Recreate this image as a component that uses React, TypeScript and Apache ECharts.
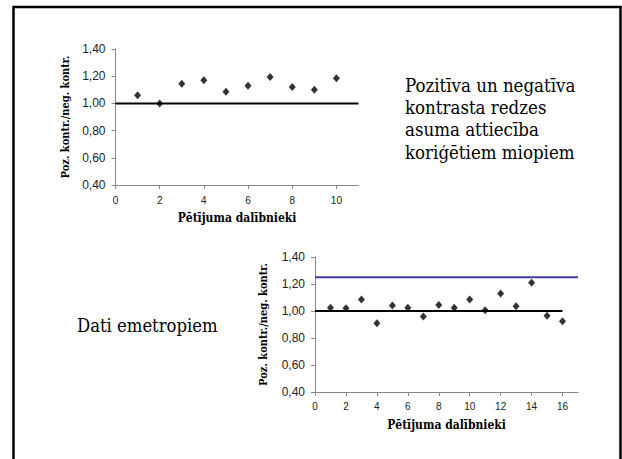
import React, { useEffect, useRef } from 'react';
import * as echarts from 'echarts';

// Top chart: corrected myopes
const topParticipants = [1, 2, 3, 4, 5, 6, 7, 8, 9, 10];
const topRatios = [1.06, 1.0, 1.145, 1.17, 1.085, 1.13, 1.195, 1.12, 1.1, 1.185];
const topRefLine = [[0, 1.0], [11, 1.0]];

// Bottom chart: emmetropes
const bottomParticipants = [1, 2, 3, 4, 5, 6, 7, 8, 9, 10, 11, 12, 13, 14, 15, 16];
const bottomRatios = [1.025, 1.02, 1.085, 0.91, 1.04, 1.025, 0.96, 1.045, 1.025, 1.085, 1.005, 1.13, 1.035, 1.21, 0.965, 0.925];
const bottomRefLine = [[0, 1.0], [16, 1.0]];
const bottomUpperLine = [[0, 1.25], [17, 1.25]];

const topXTicks = [0, 2, 4, 6, 8, 10];
const bottomXTicks = [0, 2, 4, 6, 8, 10, 12, 14, 16];

const yAxisName = 'Poz. kontr./neg. kontr.';
const xAxisName = 'Pētījuma dalībnieki';
const sideText = 'Pozitīva un negatīva\nkontrasta redzes\nasuma attiecība\nkoriģētiem miopiem';
const bottomText = 'Dati emetropiem';

const axisGray = '#868686';
const sans = 'Liberation Sans';
const serif = 'DejaVu Serif Condensed';

function makeXAxis(gridIndex: number, max: number, ticks: number[], margin: number) {
  return {
    type: 'value',
    gridIndex,
    min: 0,
    max,
    interval: 2,
    name: xAxisName,
    nameLocation: 'middle',
    nameGap: 27,
    nameTextStyle: { fontFamily: serif, fontWeight: 'bold', fontSize: 12, color: '#000' },
    axisLine: { show: true, onZero: false, lineStyle: { color: axisGray, width: 1 } },
    axisTick: { show: true, length: 4, lineStyle: { color: axisGray }, customValues: ticks },
    axisLabel: { fontFamily: sans, fontSize: 10, color: '#222', margin, customValues: ticks },
    splitLine: { show: false },
  };
}

function makeYAxis(gridIndex: number, nameGap: number) {
  return {
    type: 'value',
    gridIndex,
    min: 0.4,
    max: 1.4,
    interval: 0.2,
    name: yAxisName,
    nameLocation: 'middle',
    nameGap,
    nameTextStyle: { fontFamily: serif, fontWeight: 'bold', fontSize: 11, color: '#000' },
    axisLine: { show: true, lineStyle: { color: axisGray, width: 1 } },
    axisTick: { show: true, length: 4, lineStyle: { color: axisGray } },
    axisLabel: {
      fontFamily: sans,
      fontSize: 12,
      color: '#222',
      margin: 10,
      formatter: (v: number) => v.toFixed(2).replace('.', ','),
    },
    splitLine: { show: false },
  };
}

export default function App() {
  const ref = useRef<HTMLDivElement>(null);
  useEffect(() => {
    const chart = echarts.init(ref.current!, null, { renderer: 'svg' });
    chart.setOption({
      animation: false,
      backgroundColor: '#fff',
      grid: [
        { left: 115.5, top: 49, width: 243, height: 136 },
        { left: 315, top: 257, width: 263, height: 135 },
      ],
      xAxis: [makeXAxis(0, 11, topXTicks, 10), makeXAxis(1, 17, bottomXTicks, 9)],
      yAxis: [makeYAxis(0, 45), makeYAxis(1, 46)],
      graphic: [
        {
          type: 'rect',
          shape: { x: 13.5, y: 7, width: 607, height: 470 },
          style: { fill: 'none', stroke: '#000', lineWidth: 2.5 },
          silent: true,
        },
        {
          type: 'text',
          x: 405,
          y: 74,
          style: {
            text: sideText,
            fontFamily: serif,
            fontSize: 18.5,
            lineHeight: 22.3,
            fill: '#000',
            textVerticalAlign: 'top',
          },
        },
        {
          type: 'text',
          x: 77,
          y: 325,
          style: {
            text: bottomText,
            fontFamily: serif,
            fontSize: 18.3,
            fill: '#000',
            textVerticalAlign: 'middle',
          },
        },
      ],
      series: [
        {
          type: 'line',
          xAxisIndex: 0,
          yAxisIndex: 0,
          data: topRefLine,
          symbol: 'none',
          lineStyle: { color: '#000', width: 2 },
          silent: true,
        },
        {
          type: 'scatter',
          xAxisIndex: 0,
          yAxisIndex: 0,
          data: topParticipants.map((p, i) => [p, topRatios[i]]),
          symbol: 'diamond',
          symbolSize: [7, 8],
          itemStyle: { color: '#000' },
        },
        {
          type: 'line',
          xAxisIndex: 1,
          yAxisIndex: 1,
          data: bottomUpperLine,
          symbol: 'none',
          lineStyle: { color: '#3b3ba6', width: 2 },
          silent: true,
        },
        {
          type: 'line',
          xAxisIndex: 1,
          yAxisIndex: 1,
          data: bottomRefLine,
          symbol: 'none',
          lineStyle: { color: '#000', width: 2 },
          silent: true,
        },
        {
          type: 'scatter',
          xAxisIndex: 1,
          yAxisIndex: 1,
          data: bottomParticipants.map((p, i) => [p, bottomRatios[i]]),
          symbol: 'diamond',
          symbolSize: [7, 8],
          itemStyle: { color: '#000' },
        },
      ],
    });
    return () => chart.dispose();
  }, []);
  return (
    <div
      ref={ref}
      style={{ position: 'fixed', left: 0, top: 0, width: 622, height: 459, background: '#fff' }}
    />
  );
}
